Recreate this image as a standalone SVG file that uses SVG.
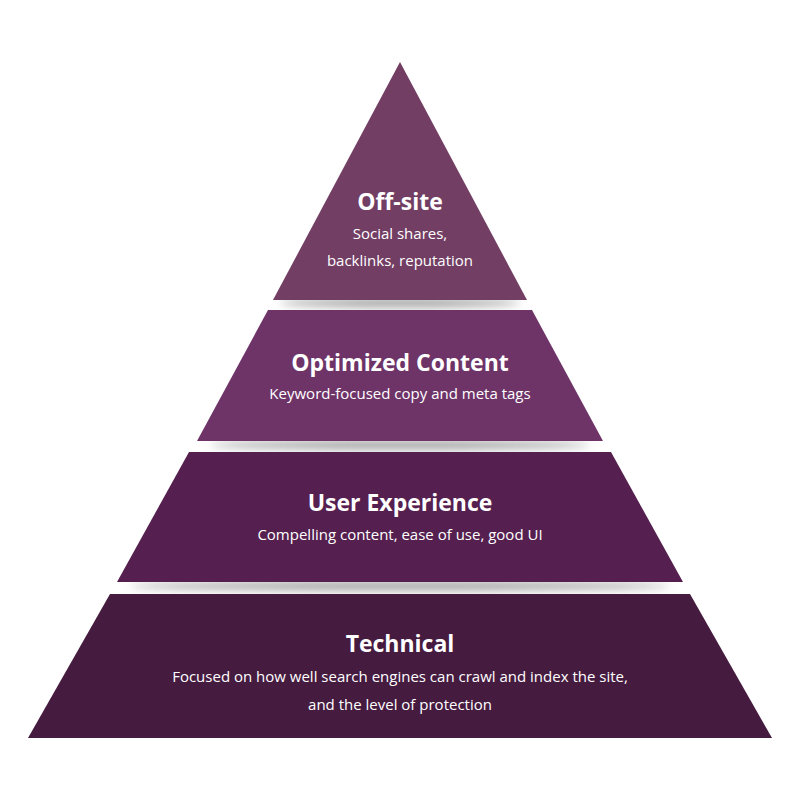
<svg xmlns="http://www.w3.org/2000/svg" width="800" height="800" viewBox="0 0 800 800">
<defs>
<filter id="blur" x="-20%" y="-200%" width="140%" height="500%"><feGaussianBlur stdDeviation="4"/></filter>
<style>
.t{font-family:"Open Sans","Liberation Sans",sans-serif;font-weight:700;font-size:23px;fill:#fff;text-anchor:middle}
.s{font-family:"Open Sans","Liberation Sans",sans-serif;font-size:15px;fill:#fff;text-anchor:middle}
.sh{fill:#9a9a9a;filter:url(#blur)}
</style>
</defs>
<rect width="800" height="800" fill="#fff"/>
<g id="shadows">
<ellipse class="sh" cx="400" cy="303" rx="120" ry="4"/>
<ellipse class="sh" cx="400" cy="445" rx="190" ry="4"/>
<ellipse class="sh" cx="400" cy="586" rx="270" ry="4"/>
</g>
<g id="offsite">
<polygon points="400,62 527,300 273,300" fill="#723e64"/>
<text class="t" x="400" y="210">Off-site</text>
<text class="s" x="400" y="239">Social shares,</text>
<text class="s" x="400" y="266">backlinks, reputation</text>
</g>
<g id="content">
<polygon points="268,310 532,310 603,441 197,441" fill="#6e3468"/>
<text class="t" x="400" y="371">Optimized Content</text>
<text class="s" x="400" y="399">Keyword-focused copy and meta tags</text>
</g>
<g id="ux">
<polygon points="189,452 611,452 683,582 117,582" fill="#55204f"/>
<text class="t" x="400" y="511">User Experience</text>
<text class="s" x="400" y="540">Compelling content, ease of use, good UI</text>
</g>
<g id="technical">
<polygon points="110,594 690,594 772,738 28,738" fill="#461b40"/>
<text class="t" x="400" y="652">Technical</text>
<text class="s" x="400" y="682">Focused on how well search engines can crawl and index the site,</text>
<text class="s" x="400" y="710">and the level of protection</text>
</g>
</svg>
